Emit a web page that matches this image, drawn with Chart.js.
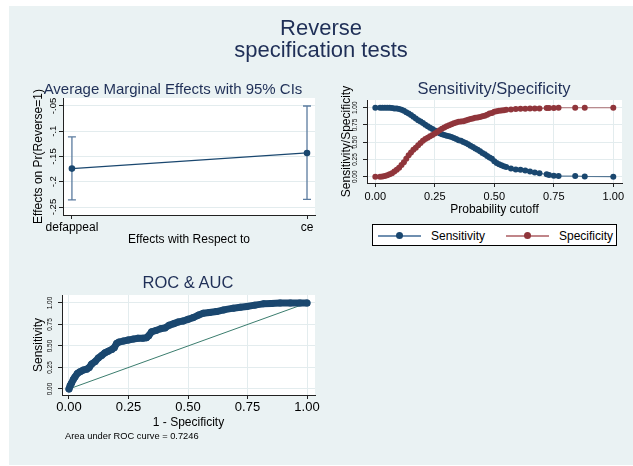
<!DOCTYPE html>
<html>
<head>
<meta charset="utf-8">
<script src="https://cdn.jsdelivr.net/npm/chart.js@4.4.0/dist/chart.umd.min.js"></script>
<style>
  body { margin: 0; width: 633px; height: 466px; background: #fff; position: relative; overflow: hidden;
         font-family: "Liberation Sans", Arial, sans-serif; }
  #bg { position: absolute; left: 9px; top: 6px; width: 624px; height: 459px; background: #eaf2f3; }
  canvas { position: absolute; left: 0; top: 0; }
  .t { position: absolute; white-space: nowrap; transform: translate(-50%, -50%); color: #1f2f57; line-height: 1; }
  #legend { position: absolute; left: 372px; top: 224px; width: 245px; height: 22px; box-sizing: border-box;
            border: 1px solid #000; background: #fff; }
  #legend .ln { position: absolute; top: 10px; height: 2px; width: 43px; }
  #legend .dot { position: absolute; top: 7px; width: 7px; height: 7px; border-radius: 50%; }
  #legend .lab { position: absolute; top: 4px; font-size: 12px; color: #000; }
</style>
</head>
<body>
<div id="bg"></div>
<canvas id="c1" width="633" height="466"></canvas>
<canvas id="c2" width="633" height="466"></canvas>
<canvas id="c3" width="633" height="466"></canvas>

<div class="t" style="left:321px;top:28px;font-size:22px">Reverse</div>
<div class="t" style="left:321px;top:50px;font-size:22px">specification tests</div>
<div class="t" style="left:173px;top:88px;font-size:15px">Average Marginal Effects with 95% CIs</div>
<div class="t" style="left:494px;top:88px;font-size:16.5px">Sensitivity/Specificity</div>
<div class="t" style="left:188px;top:282px;font-size:16.5px">ROC &amp; AUC</div>
<div style="position:absolute;left:65px;top:431px;font-size:9.3px;color:#000">Area under ROC curve = 0.7246</div>
<div id="legend"></div>

<script>
// Panel 1: average marginal effects
const categories = ["defappeal", "ce"];
const margins = [-0.174, -0.143];
const ciLow = [-0.236, -0.235];
const ciHigh = [-0.111, -0.050];
const ameTicks = [-0.25, -0.2, -0.15, -0.1, -0.05];
const ameTickLabels = ["-.25", "-.2", "-.15", "-.1", "-.05"];

// Panel 2: sensitivity / specificity vs cutoff
const cutoffs = [0.00, 0.02, 0.03, 0.04, 0.05, 0.06, 0.07, 0.08, 0.09, 0.10,
  0.11, 0.12, 0.13, 0.14, 0.15, 0.16, 0.17, 0.18, 0.19, 0.20,
  0.21, 0.22, 0.23, 0.24, 0.25, 0.26, 0.27, 0.28, 0.29, 0.30,
  0.31, 0.32, 0.33, 0.34, 0.35, 0.36, 0.37, 0.38, 0.39, 0.40,
  0.41, 0.42, 0.43, 0.44, 0.45, 0.46, 0.47, 0.48, 0.49, 0.50,
  0.51, 0.52, 0.53, 0.54, 0.55, 0.57, 0.59, 0.61, 0.63, 0.65,
  0.67, 0.69, 0.72, 0.73, 0.75, 0.77, 0.84, 0.88, 1.00];
const sensitivity = [1.00, 1.00, 1.00, 1.00, 1.00, 1.00, 0.995, 0.99, 0.99, 0.98,
  0.97, 0.955, 0.935, 0.915, 0.895, 0.87, 0.845, 0.82, 0.80, 0.78,
  0.755, 0.73, 0.71, 0.69, 0.67, 0.65, 0.63, 0.615, 0.605, 0.595,
  0.585, 0.575, 0.56, 0.545, 0.53, 0.52, 0.505, 0.49, 0.47, 0.45,
  0.43, 0.41, 0.39, 0.37, 0.345, 0.325, 0.30, 0.28, 0.26, 0.225,
  0.20, 0.18, 0.165, 0.15, 0.14, 0.12, 0.105, 0.10, 0.09, 0.075,
  0.06, 0.05, 0.035, 0.025, 0.015, 0.01, 0.01, 0.005, 0.00];
const specificity = [0.00, 0.00, 0.005, 0.01, 0.02, 0.035, 0.05, 0.075, 0.10, 0.13,
  0.17, 0.21, 0.26, 0.31, 0.35, 0.39, 0.42, 0.455, 0.49, 0.52,
  0.545, 0.565, 0.585, 0.605, 0.625, 0.65, 0.675, 0.695, 0.715, 0.73,
  0.745, 0.76, 0.775, 0.785, 0.795, 0.80, 0.805, 0.815, 0.825, 0.835,
  0.845, 0.855, 0.86, 0.865, 0.875, 0.885, 0.90, 0.915, 0.925, 0.94,
  0.95, 0.955, 0.96, 0.965, 0.97, 0.975, 0.98, 0.985, 0.985, 0.99,
  0.99, 0.99, 0.995, 0.995, 0.995, 1.00, 1.00, 1.00, 1.00];
const seriesNames = ["Sensitivity", "Specificity"];

// Panel 3: ROC curve
const fpr = [0, 0.005, 0.011, 0.018, 0.025, 0.035, 0.046, 0.06, 0.074, 0.085,
  0.095, 0.11, 0.123, 0.137, 0.151, 0.165, 0.18, 0.19, 0.2, 0.21,
  0.228, 0.249, 0.27, 0.29, 0.31, 0.325, 0.335, 0.347, 0.365, 0.385,
  0.403, 0.42, 0.44, 0.46, 0.48, 0.5, 0.522, 0.545, 0.564, 0.59,
  0.62, 0.65, 0.69, 0.72, 0.747, 0.78, 0.817, 0.85, 0.887, 0.93,
  0.97, 1.0];
const tpr = [0, 0.04, 0.07, 0.11, 0.14, 0.18, 0.20, 0.22, 0.23, 0.25,
  0.29, 0.32, 0.36, 0.39, 0.42, 0.44, 0.46, 0.48, 0.53, 0.545,
  0.557, 0.57, 0.58, 0.59, 0.59, 0.595, 0.62, 0.665, 0.68, 0.70,
  0.71, 0.74, 0.76, 0.78, 0.79, 0.81, 0.83, 0.86, 0.88, 0.89,
  0.90, 0.92, 0.94, 0.95, 0.96, 0.975, 0.99, 0.995, 1.0, 1.0,
  1.0, 1.0];
const diagX = [0, 1];
const diagY = [0, 1];
const unitTicks = [0, 0.25, 0.5, 0.75, 1];
const unitTickLabels = ["0.00", "0.25", "0.50", "0.75", "1.00"];

Chart.defaults.font.family = '"Liberation Sans", Arial, sans-serif';
Chart.defaults.color = "#000";

const navy = "#1a476f";
const maroon = "#90353b";
const gridCol = "#e3ecee";

function xy(xs, ys) { return xs.map((x, i) => ({ x: x, y: ys[i] })); }

// fix the size of an axis box so the plot area lands where we want
function fixSize(w, h) {
  return function (s) {
    if (w != null) s.width = w;
    if (h != null) s.height = h;
    s.paddingLeft = s.paddingRight = s.paddingTop = s.paddingBottom = 0;
  };
}
function setTicks(vals) {
  return function (s) { s.ticks = vals.map(v => ({ value: v })); };
}

const whitePlot = {
  id: "whitePlot",
  beforeDraw(chart) {
    const a = chart.chartArea, c = chart.ctx;
    c.save();
    c.fillStyle = "#fff";
    c.fillRect(a.left, a.top, a.right - a.left, a.bottom - a.top);
    c.restore();
  }
};

const errorBars = {
  id: "errorBars",
  beforeDatasetsDraw(chart) {
    const c = chart.ctx, xs = chart.scales.x, ys = chart.scales.y;
    c.save();
    c.strokeStyle = "#5b7b9f";
    c.lineWidth = 1.3;
    categories.forEach((cat, i) => {
      const x = xs.getPixelForValue(i);
      const y1 = ys.getPixelForValue(ciLow[i]);
      const y2 = ys.getPixelForValue(ciHigh[i]);
      c.beginPath();
      c.moveTo(x, y1); c.lineTo(x, y2);
      c.moveTo(x - 4, y1); c.lineTo(x + 4, y1);
      c.moveTo(x - 4, y2); c.lineTo(x + 4, y2);
      c.stroke();
    });
    c.restore();
  }
};

function yAxis(opts) {
  return {
    min: opts.min, max: opts.max,
    afterBuildTicks: setTicks(opts.ticks),
    afterFit: fixSize(opts.width, null),
    ticks: {
      callback: (v, i) => opts.labels[i], font: { size: opts.fontSize },
      minRotation: 90, maxRotation: 90, crossAlign: "center", padding: opts.pad
    },
    grid: { color: gridCol, tickColor: "#222", tickLength: 4 },
    border: { color: "#222" },
    title: { display: true, text: opts.title, font: { size: 12 }, padding: 0 }
  };
}

function xAxis(opts) {
  return {
    type: "linear", min: opts.min, max: opts.max,
    afterBuildTicks: setTicks(opts.ticks),
    afterFit: fixSize(null, opts.height),
    ticks: {
      callback: (v, i) => opts.labels[i], font: { size: opts.fontSize },
      maxRotation: 0, autoSkip: false, padding: opts.pad
    },
    grid: { color: gridCol, tickColor: "#222", tickLength: 4, drawOnChartArea: opts.grid },
    border: { color: "#222" },
    title: { display: true, text: opts.title, font: { size: 12 }, padding: 0 }
  };
}

const base = {
  responsive: false, animation: false, events: [],
  plugins: { legend: { display: false }, tooltip: { enabled: false } }
};

// Panel 1
new Chart(document.getElementById("c1"), {
  type: "line",
  data: {
    datasets: [{
      data: xy(categories.map((c, i) => i), margins),
      borderColor: navy, backgroundColor: navy, borderWidth: 1.2,
      pointRadius: 3.3, pointBorderWidth: 0
    }]
  },
  options: Object.assign({}, base, {
    layout: { padding: { left: 31, top: 98, right: 633 - 315, bottom: 466 - 215 - 32 } },
    scales: {
      x: xAxis({ min: -0.038, max: 1.034, ticks: categories.map((c, i) => i), labels: categories,
                 fontSize: 12, pad: 1, height: 32, grid: false, title: "Effects with Respect to" }),
      y: yAxis({ min: -0.2658, max: -0.0342, ticks: ameTicks, labels: ameTickLabels,
                 fontSize: 9.5, pad: -2.5, width: 32, title: "Effects on Pr(Reverse=1)" })
    }
  }),
  plugins: [whitePlot, errorBars]
});

// Panel 2
new Chart(document.getElementById("c2"), {
  type: "line",
  data: {
    datasets: [
      { label: seriesNames[0], data: xy(cutoffs, sensitivity), order: 1,
        borderColor: "rgba(26,71,111,0.7)", backgroundColor: navy, borderWidth: 1.2,
        pointRadius: 3, pointBorderWidth: 0 },
      { label: seriesNames[1], data: xy(cutoffs, specificity), order: 0,
        borderColor: "rgba(144,53,59,0.7)", backgroundColor: maroon, borderWidth: 1.2,
        pointRadius: 3, pointBorderWidth: 0 }
    ]
  },
  options: Object.assign({}, base, {
    layout: { padding: { left: 339.5, top: 100, right: 633 - 622, bottom: 466 - 183 - 34 } },
    scales: {
      x: xAxis({ min: -0.035, max: 1.0366, ticks: unitTicks, labels: unitTickLabels,
                 fontSize: 11, pad: 3, height: 34, grid: true, title: "Probability cutoff" }),
      y: yAxis({ min: -0.091, max: 1.112, ticks: unitTicks, labels: unitTickLabels,
                 fontSize: 6.5, pad: 1, width: 27.5, title: "Sensitivity/Specificity" })
    }
  }),
  plugins: [whitePlot]
});

// Panel 3
new Chart(document.getElementById("c3"), {
  type: "line",
  data: {
    datasets: [
      { data: xy(fpr, tpr), order: 0,
        borderColor: navy, backgroundColor: navy, borderWidth: 7,
        borderCapStyle: "round", borderJoinStyle: "round",
        pointRadius: 3.5, pointBorderWidth: 0 },
      { data: xy(diagX, diagY), order: 1,
        borderColor: "#3b7d6e", borderWidth: 1, pointRadius: 0 }
    ]
  },
  options: Object.assign({}, base, {
    layout: { padding: { left: 31, top: 295, right: 633 - 315, bottom: 466 - 395 - 34.5 } },
    scales: {
      x: xAxis({ min: -0.0294, max: 1.0336, ticks: unitTicks, labels: unitTickLabels,
                 fontSize: 13, pad: 0.5, height: 34.5, grid: true, title: "1 - Specificity" }),
      y: yAxis({ min: -0.07, max: 1.093, ticks: unitTicks, labels: unitTickLabels,
                 fontSize: 6.5, pad: 1, width: 31, title: "Sensitivity" })
    }
  }),
  plugins: [whitePlot]
});

// Legend for panel 2
const legendColors = [navy, maroon];
const legendLines = ["#6f8fb0", "#c08589"];
const legendEl = document.getElementById("legend");
seriesNames.forEach((name, i) => {
  const off = i * 128;
  legendEl.insertAdjacentHTML("beforeend",
    `<div class="ln" style="left:${5 + off}px;background:${legendLines[i]}"></div>` +
    `<div class="dot" style="left:${23 + off}px;background:${legendColors[i]}"></div>` +
    `<div class="lab" style="left:${58 + off}px">${name}</div>`);
});
</script>
</body>
</html>
